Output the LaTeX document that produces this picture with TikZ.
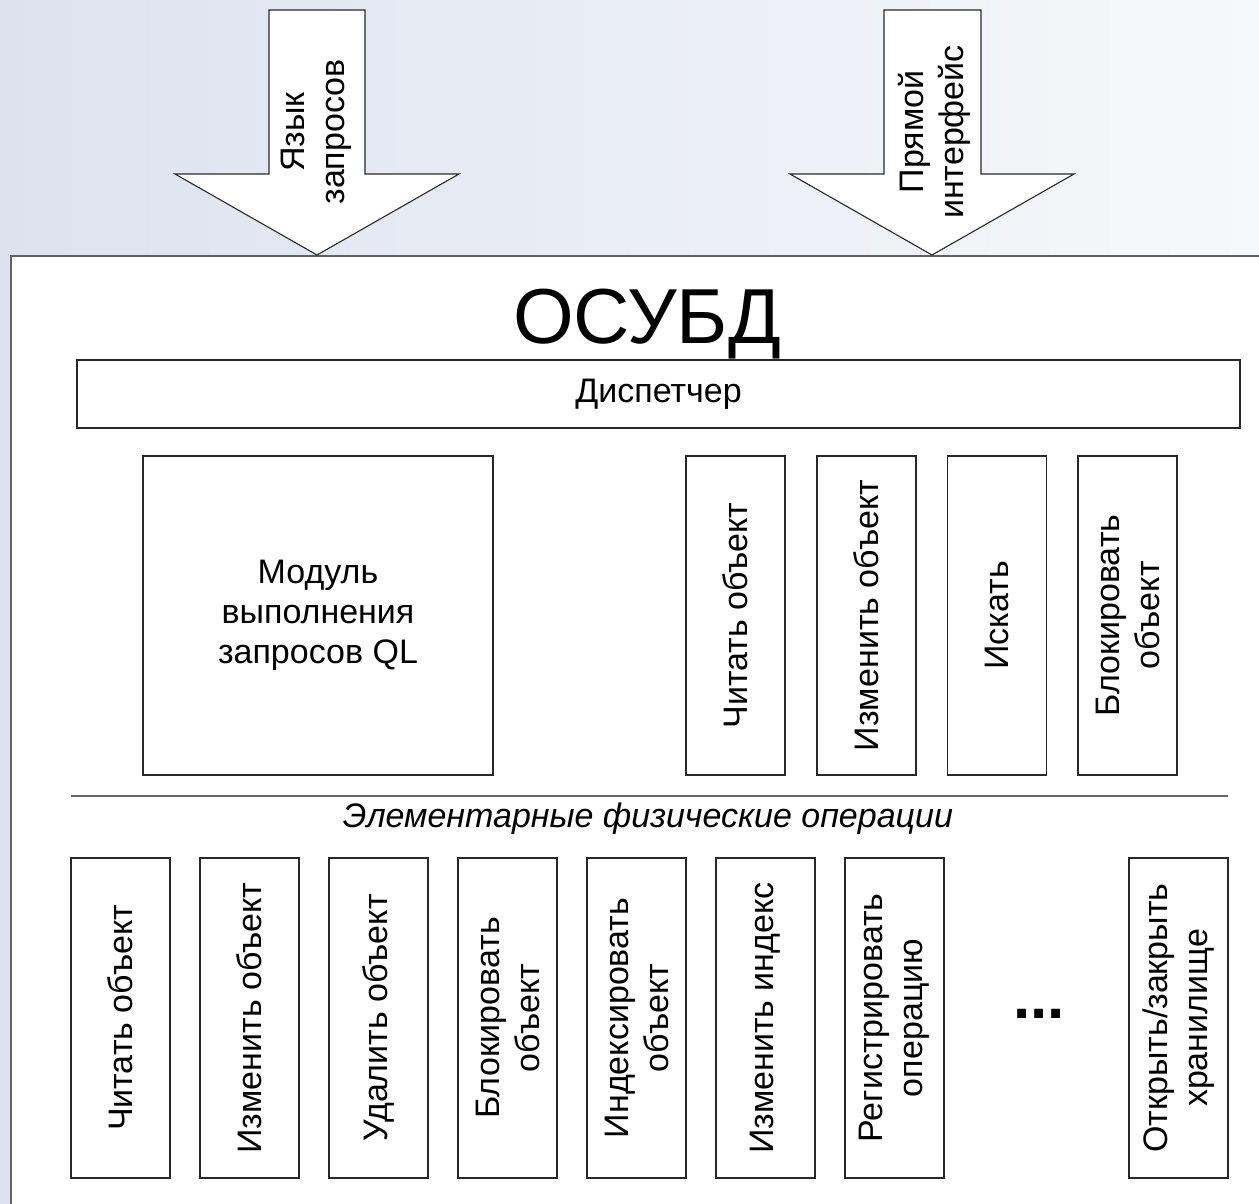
\documentclass[tikz,border=0pt]{standalone}
\usepackage{fontspec}
\setmainfont{Liberation Sans}
\definecolor{bgL}{RGB}{220,227,239}
\definecolor{bgR}{RGB}{247,248,251}
\definecolor{edge}{RGB}{40,40,40}
\begin{document}
\begin{tikzpicture}[x=1pt,y=-1pt,
  every node/.style={font=\fontsize{34}{40}\selectfont},
  frame/.style={draw=black!62, line width=2.2pt, fill=white},
  plainbox/.style={draw=edge, line width=1.4pt, fill=white, inner sep=0pt, align=center},
  opbox/.style={plainbox, rotate=90, minimum width=320pt, minimum height=99pt},
  arrowshape/.style={draw=edge, line width=1.1pt, fill=white, line join=miter},
  sepline/.style={draw=black!60, line width=1.4pt}
]
\useasboundingbox (0,0) rectangle (1259,1204);
\clip (0,0) rectangle (1259,1204);

% slide background
\shade[left color=bgL, right color=bgR] (0,0) rectangle (1259,1204);

% outer DBMS frame (runs past the right and bottom edges)
\node[frame, anchor=north west, minimum width=1320pt, minimum height=1000pt, inner sep=0pt] (osubd) at (10,255) {};

% input arrows
\draw[arrowshape] (269,10) -- (365,10) -- (365,174) -- (459,174) -- (317,255)
  -- (175,174) -- (269,174) -- cycle;
\node[rotate=90, align=center] (qlang) at (316,132) {Язык\\запросов};

\draw[arrowshape] (884,10) -- (981,10) -- (981,174) -- (1074,174) -- (932,255)
  -- (790,174) -- (884,174) -- cycle;
\node[rotate=90, align=center] (direct) at (934,132) {Прямой\\интерфейс};

% title and dispatcher
\node[font=\fontsize{78}{88}\selectfont, anchor=base] (title) at (647,343) {ОСУБД};
\node[plainbox, minimum width=1163pt, minimum height=68pt] (disp) at (658.5,394) {Диспетчер};

% upper row
\node[plainbox, minimum width=350pt, minimum height=319pt] (qlmod) at (318,615.5)
  {Модуль\\выполнения\\запросов QL};
\node[opbox, minimum width=319pt] (uread)  at (735.5,615.5) {Читать объект};
\node[opbox, minimum width=319pt] (uedit)  at (866.5,615.5) {Изменить объект};
\node[opbox, minimum width=319pt] (ufind)  at (997,615.5)   {Искать};
\node[opbox, minimum width=319pt] (ulock)  at (1127.5,615.5) {Блокировать\\объект};

% separator of elementary operations
\coordinate (sepL) at (71,796);
\coordinate (sepR) at (1228,796);
\draw[sepline] (sepL) -- (sepR);
\node[font=\fontsize{34}{40}\selectfont\itshape, anchor=base] (elops) at (648,827)
  {Элементарные физические операции};

% lower row
\node[opbox] (lread)  at (120.5,1018) {Читать объект};
\node[opbox] (ledit)  at (249.5,1018) {Изменить объект};
\node[opbox] (ldel)   at (378.5,1018) {Удалить объект};
\node[opbox] (llock)  at (507.5,1018) {Блокировать\\объект};
\node[opbox] (lindex) at (636.5,1018) {Индексировать\\объект};
\node[opbox] (lchidx) at (765.5,1018) {Изменить индекс};
\node[opbox] (llog)   at (894.5,1018) {Регистрировать\\операцию};
\node[font=\fontsize{62}{70}\selectfont\bfseries, anchor=base] (more) at (1039,1018) {...};
\node[opbox] (lopen)  at (1178.5,1018) {Открыть/закрыть\\хранилище};
\end{tikzpicture}
\end{document}
